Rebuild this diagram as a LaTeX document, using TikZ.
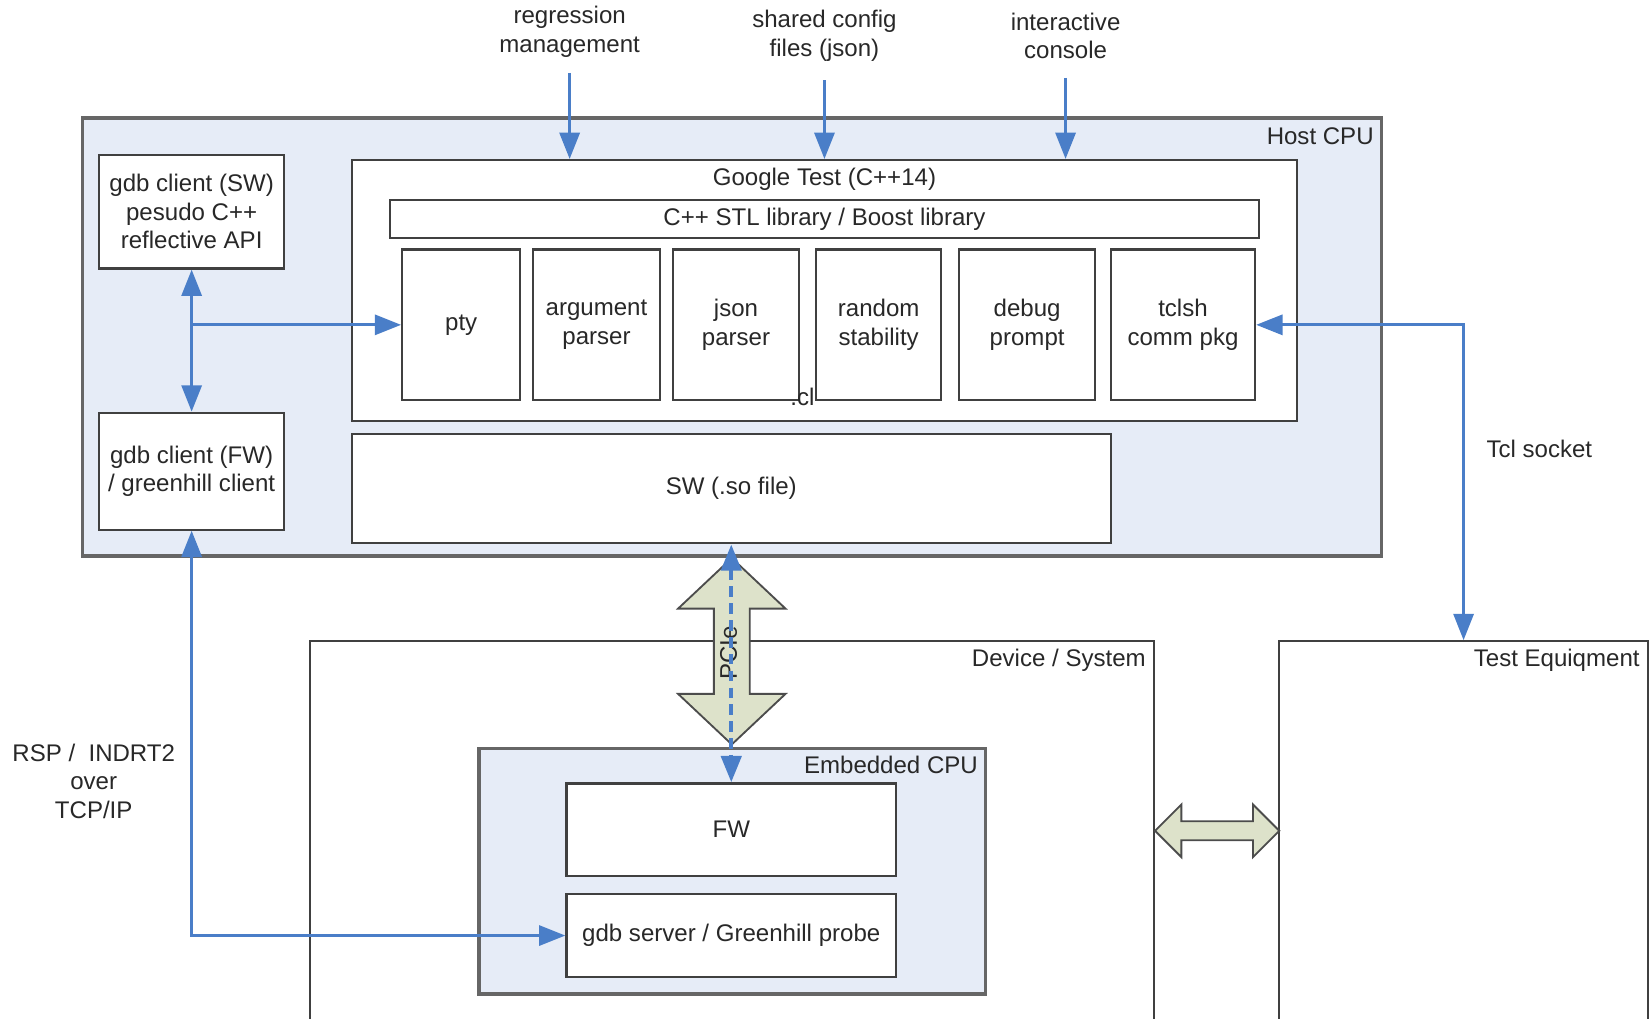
\documentclass[tikz,border=0pt]{standalone}
\usepackage{fontspec}
\setmainfont{Liberation Sans}
\usepackage{tikz}
\usetikzlibrary{arrows.meta, positioning}

\definecolor{hostfill}{RGB}{230,236,247}
\definecolor{linkblue}{RGB}{74,126,200}
\definecolor{fatfill}{RGB}{221,226,202}
\definecolor{txtgray}{RGB}{40,40,40}

\begin{document}
\begin{tikzpicture}[
    x=0.02cm, y=-0.02cm,
    font=\fontsize{13}{15.4}\selectfont, text=txtgray,
    box/.style={rectangle, draw=black!75, line width=1.2pt, fill=white,
                align=center, inner sep=2pt},
    cpubox/.style={box, fill=hostfill, draw=black!60, line width=1.8pt},
    modbox/.style={box, minimum height=2.86cm},
    tag/.style={inner sep=2pt, anchor=north east},
    lbl/.style={align=center, inner sep=1pt},
    link/.style={-{Triangle[length=0.5cm, width=0.38cm]}, draw=linkblue, line width=1.7pt},
    bilink/.style={{Triangle[length=0.5cm, width=0.38cm]}-{Triangle[length=0.5cm, width=0.38cm]},
                   draw=linkblue, line width=1.7pt},
    fat/.style={draw=black!70, fill=fatfill, line width=1pt, line join=miter}
]
\useasboundingbox (0,0) rectangle (1568,967);

\node[cpubox, minimum width=24.68cm, minimum height=8.32cm] (host) at (695,320) {};
\node[tag] at ([shift={(-0.1cm,-0.14cm)}]host.north east) {Host CPU};

\node[box, minimum width=17.96cm, minimum height=4.96cm] (gtest) at (783,276) {};
\node[lbl, below=0.14cm of gtest.north] (gtitle) {Google Test (C++14)};
\node[box, minimum width=16.52cm, minimum height=0.72cm] (stl) at (783,208) {C++ STL library / Boost library};

\node[modbox, minimum width=2.24cm] (pty)   at (438,308.5)    {pty};
\node[modbox, minimum width=2.42cm] (argp)  at (566.5,308.5)  {argument\\parser};
\node[modbox, minimum width=2.40cm] (jsonp) at (699,308.5)    {json\\parser};
\node[modbox, minimum width=2.38cm] (rand)  at (834.5,308.5)  {random\\stability};
\node[modbox, minimum width=2.58cm] (dbg)   at (975.5,308.5)  {debug\\prompt};
\node[modbox, minimum width=2.74cm] (tclsh) at (1123.5,308.5) {tclsh\\comm pkg};
\node[lbl] (stray) at (762,377) {.cl};

\node[box, minimum width=14.42cm, minimum height=2.08cm] (sw) at (694.5,464) {SW (.so file)};

\node[box, minimum width=3.52cm, minimum height=2.16cm] (gdbsw) at (182,201) {gdb client (SW)\\pesudo C++\\reflective API};
\node[box, minimum width=3.52cm, minimum height=2.22cm] (gdbfw) at (182,447.5) {gdb client (FW)\\/ greenhill client};

\node[box, anchor=north, minimum width=16.04cm, minimum height=7.4cm] (dev) at (695,608) {};
\node[tag] at ([shift={(-0.1cm,-0.1cm)}]dev.north east) {Device / System};
\node[box, anchor=north, minimum width=7cm, minimum height=7.4cm] (testeq) at (1390,608) {};
\node[tag] at ([shift={(-0.1cm,-0.1cm)}]testeq.north east) {Test Equiqment};

\node[cpubox, minimum width=9.62cm, minimum height=4.66cm] (emb) at (695.5,827.5) {};
\node[tag] at ([shift={(-0.1cm,-0.1cm)}]emb.north east) {Embedded CPU};
\node[box, minimum width=6.26cm, minimum height=1.76cm] (fw) at (694.5,788) {FW};
\node[box, minimum width=6.26cm, minimum height=1.58cm] (gdbsrv) at (694.5,888.5) {gdb server / Greenhill probe};

\draw[fat] (695,530) -- (746,578) -- (712,578) -- (712,659) -- (746,659) -- (695,707)
    -- (644,659) -- (678,659) -- (678,578) -- (644,578) -- cycle;
\node[rotate=90, inner sep=1pt] (pcie) at (692,620) {PCIe};
\draw[fat] (1097,789) -- (1122,764) -- (1122,780) -- (1190,780) -- (1190,764) -- (1215,789)
    -- (1190,814) -- (1190,798) -- (1122,798) -- (1122,814) -- cycle;

\node[lbl] (regm) at (541,30)   {regression\\management};
\node[lbl] (cfg)  at (783,34)   {shared config\\files (json)};
\node[lbl] (cons) at (1012,34)  {interactive\\console};
\node[lbl] (tcllbl) at (1462,426) {Tcl socket};
\node[lbl] (rsp)  at (89,742)   {RSP /\ \ INDRT2\\over\\TCP/IP};

\draw[link, shorten <=0.26cm] (regm) -- (regm |- gtest.north);
\draw[link, shorten <=0.32cm] (cfg)  -- (cfg |- gtest.north);
\draw[link, shorten <=0.32cm] (cons) -- (cons |- gtest.north);
\draw[bilink] (gdbsw) -- (gdbfw);
\draw[link] (gdbsw.south |- pty.west) -- (pty.west);
\draw[bilink] (gdbfw) |- (gdbsrv);
\draw[bilink] (tclsh.east) -| (testeq.north);
\draw[bilink, line width=2.4pt, dash pattern=on 0.2cm off 0.12cm] (sw.south) -- (fw.north);

\end{tikzpicture}
\end{document}
